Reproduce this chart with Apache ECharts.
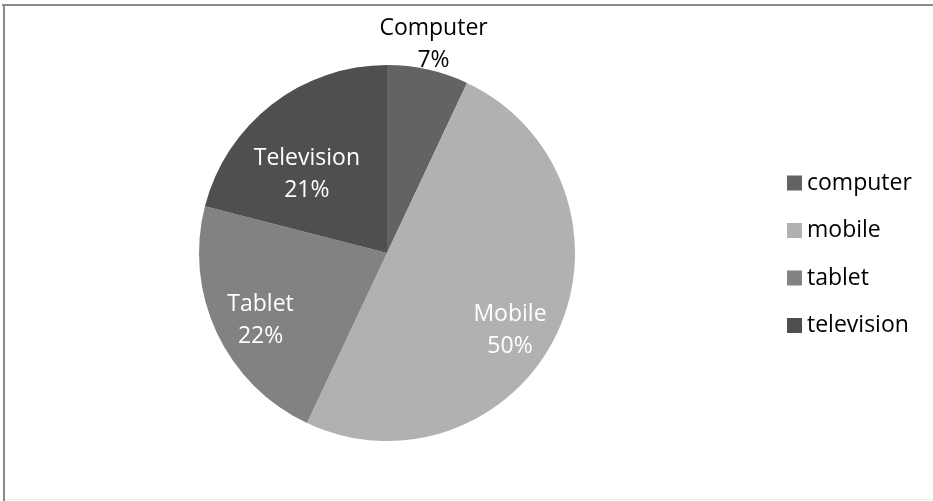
<!DOCTYPE html>
<html>
<head>
<meta charset="utf-8">
<script src="https://cdn.jsdelivr.net/npm/echarts@6/dist/echarts.min.js"></script>
<style>
  html, body { margin: 0; padding: 0; background: #fff; }
  #chart { width: 933px; height: 501px; }
</style>
</head>
<body>
<div id="chart"></div>
<script>
// Device usage shares
const labelNames = ['Computer', 'Mobile', 'Tablet', 'Television'];
const legendNames = ['computer', 'mobile', 'tablet', 'television'];
const shares = [7, 50, 22, 21];

// Styling
const sliceColors = ['#636363', '#b1b1b1', '#828282', '#4f4f4f'];
const labelColors = ['#000000', '#ffffff', '#ffffff', '#ffffff'];
const labelRadius = [1.135, 0.77, 0.755, 0.6];   // label distance as a fraction of the pie radius
const labelNudge = [[0, 0], [-8, 16], [2, 7], [-11, 11]];

const FONT = '"Open Sans", "DejaVu Sans", sans-serif';
const CX = 387, CY = 253, R = 188;

const total = shares.reduce((a, b) => a + b, 0);
function midAngle(i) {
  let before = 0;
  for (let k = 0; k < i; k++) before += shares[k];
  return (before + shares[i] / 2) / total * Math.PI * 2;
}

const chart = echarts.init(document.getElementById('chart'), null, { renderer: 'canvas' });

chart.setOption({
  animation: false,
  backgroundColor: '#ffffff',
  graphic: [
    { type: 'line', shape: { x1: 2, y1: 5, x2: 933, y2: 5 }, style: { stroke: '#8a8a8a', lineWidth: 2 } },
    { type: 'line', shape: { x1: 4, y1: 4, x2: 4, y2: 501 }, style: { stroke: '#8a8a8a', lineWidth: 2 } },
    { type: 'line', shape: { x1: 5, y1: 499.5, x2: 933, y2: 499.5 }, style: { stroke: '#ececec', lineWidth: 1 } }
  ],
  legend: {
    orient: 'vertical',
    left: 782,
    top: 166,
    icon: 'rect',
    itemWidth: 15,
    itemHeight: 15,
    itemGap: 23.5,
    selectedMode: false,
    textStyle: { fontFamily: FONT, fontSize: 23, lineHeight: 24, color: '#000000' },
    data: legendNames
  },
  series: [{
    type: 'pie',
    center: [CX, CY],
    radius: R,
    startAngle: 90,
    clockwise: true,
    avoidLabelOverlap: false,
    silent: true,
    itemStyle: { borderWidth: 0 },
    label: {
      show: true,
      position: 'inside',
      fontFamily: FONT,
      fontSize: 23,
      lineHeight: 32,
      formatter: p => labelNames[p.dataIndex] + '\n' + p.value + '%'
    },
    labelLine: { show: false },
    labelLayout: p => {
      const i = p.dataIndex;
      const a = midAngle(i);
      const d = R * labelRadius[i];
      return {
        x: CX + d * Math.sin(a) + labelNudge[i][0],
        y: CY - d * Math.cos(a) + labelNudge[i][1],
        align: 'center',
        verticalAlign: 'middle'
      };
    },
    data: shares.map((v, i) => ({
      name: legendNames[i],
      value: v,
      itemStyle: { color: sliceColors[i] },
      label: { color: labelColors[i] }
    }))
  }]
});
</script>
</body>
</html>
